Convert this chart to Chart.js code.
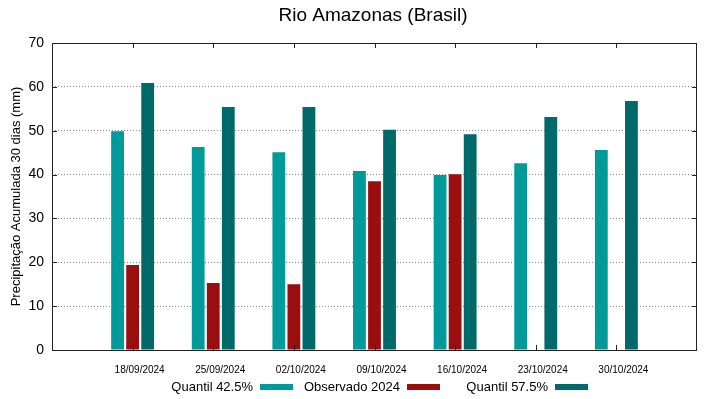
<!DOCTYPE html>
<html>
<head>
<meta charset="utf-8">
<script src="https://cdn.jsdelivr.net/npm/chart.js@4.4.0/dist/chart.umd.min.js"></script>
<style>
  html, body { margin: 0; padding: 0; background: #fff; }
  #wrap { width: 719px; height: 399px; position: relative; }
</style>
</head>
<body>
<div id="wrap"><canvas id="chart"></canvas></div>
<script>
// Data
const dates = ["18/09/2024", "25/09/2024", "02/10/2024", "09/10/2024", "16/10/2024", "23/10/2024", "30/10/2024"];
const quantil425 = [49.9, 46.3, 45.1, 40.8, 39.9, 42.6, 45.6];
const observado = [19.4, 15.3, 15.0, 38.5, 40.1, null, null];
const quantil575 = [60.9, 55.4, 55.4, 50.2, 49.2, 53.1, 56.8];
const yTicks = [0, 10, 20, 30, 40, 50, 60, 70];

const FONT = "'Liberation Sans', Arial, sans-serif";

// pad one empty slot each side, like the gnuplot x range
const pad = arr => [null, ...arr, null];
const labels = ["", ...dates, ""];

// title, border, tick marks and gnuplot-style legend (text then swatch)
const decor = {
  id: "decor",
  afterDraw(chart) {
    const { ctx, chartArea: a, scales } = chart;
    ctx.save();
    ctx.strokeStyle = "#222";
    ctx.lineWidth = 1;
    ctx.strokeRect(a.left + 0.5, a.top + 0.5, a.right - a.left - 1, a.bottom - a.top);

    // y ticks, inward on both sides
    ctx.beginPath();
    yTicks.forEach(v => {
      const y = Math.round(scales.y.getPixelForValue(v)) + 0.5;
      ctx.moveTo(a.left, y); ctx.lineTo(a.left + 5, y);
      ctx.moveTo(a.right, y); ctx.lineTo(a.right - 5, y);
    });
    // x ticks at group centres
    dates.forEach((d, i) => {
      const x = Math.round(scales.x.getPixelForValue(i + 1)) + 0.5;
      ctx.moveTo(x, a.bottom); ctx.lineTo(x, a.bottom - 5);
      ctx.moveTo(x, a.top); ctx.lineTo(x, a.top + 5);
    });
    ctx.stroke();

    // title
    ctx.fillStyle = "#000";
    ctx.font = "19px " + FONT;
    ctx.textAlign = "center";
    ctx.textBaseline = "middle";
    ctx.fillText("Rio Amazonas (Brasil)", 373, 16);

    // legend
    const legendX = [253, 400, 548];
    ctx.font = "13px " + FONT;
    ctx.textAlign = "right";
    chart.data.datasets.forEach((ds, i) => {
      const x = legendX[i];
      ctx.fillStyle = "#000";
      ctx.fillText(ds.label, x, 387);
      ctx.fillStyle = ds.backgroundColor;
      ctx.fillRect(x + 7, 384, 33, 6);
    });
    ctx.restore();
  }
};

new Chart(document.getElementById("chart"), {
  type: "bar",
  data: {
    labels: labels,
    datasets: [
      { label: "Quantil 42.5%", data: pad(quantil425), backgroundColor: "#009a9a" },
      { label: "Observado 2024", data: pad(observado), backgroundColor: "#990f0f" },
      { label: "Quantil 57.5%", data: pad(quantil575), backgroundColor: "#006a6a" }
    ]
  },
  options: {
    responsive: true,
    maintainAspectRatio: false,
    animation: false,
    categoryPercentage: 0.56,
    barPercentage: 0.85,
    layout: { padding: { top: 43, right: 22, bottom: 0, left: 0 } },
    plugins: {
      legend: { display: false },
      tooltip: { enabled: false }
    },
    scales: {
      x: {
        offset: false,
        grid: { display: false },
        border: { display: false },
        ticks: {
          color: "#000",
          font: { family: FONT, size: 10 },
          maxRotation: 0,
          autoSkip: false,
          labelOffset: 7,
          padding: 6
        },
        afterFit: s => { s.height = 49; }
      },
      y: {
        min: 0,
        max: 70,
        border: { display: false, dash: [1, 2] },
        grid: {
          color: c => (c.tick.value === 0 || c.tick.value === 70) ? "rgba(0,0,0,0)" : "#888",
          drawTicks: false
        },
        ticks: {
          stepSize: 10,
          color: "#000",
          font: { family: FONT, size: 14 },
          padding: 8
        },
        title: {
          display: true,
          text: "Precipitação Acumulada 30 dias (mm)",
          color: "#000",
          font: { family: FONT, size: 13 },
          padding: { top: 9, bottom: 0 }
        },
        afterFit: s => { s.width = 52; }
      }
    }
  },
  plugins: [decor]
});
</script>
</body>
</html>
